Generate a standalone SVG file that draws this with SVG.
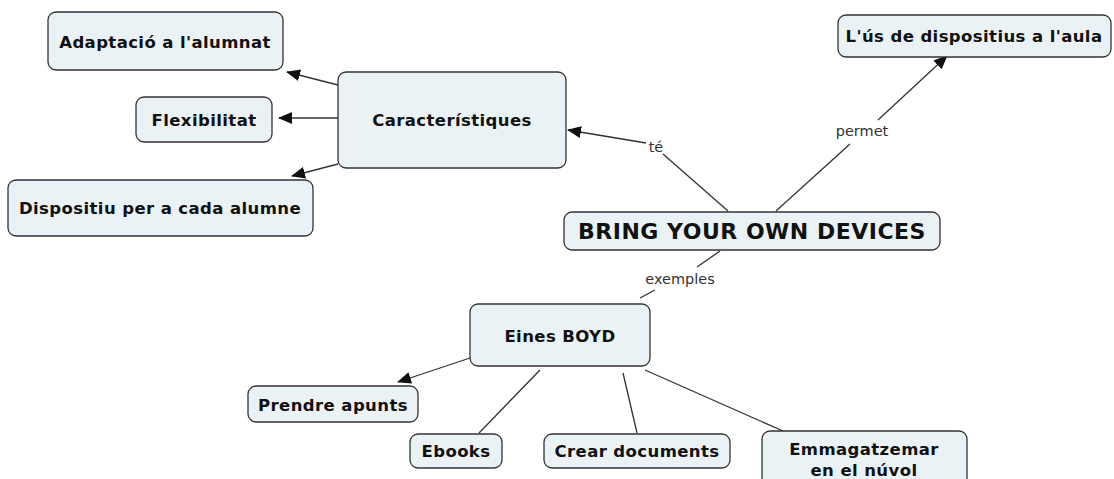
<svg xmlns="http://www.w3.org/2000/svg" width="1114" height="479" viewBox="0 0 1114 479">
<style>
.n{fill:#ebf2f5;stroke:#333;stroke-width:1.3}
.t{font-family:"DejaVu Sans",Verdana,sans-serif;font-weight:bold;font-size:16.5px;letter-spacing:0.4px;fill:#111;text-anchor:middle;dominant-baseline:central}
.big{font-size:22px;letter-spacing:0.5px}
.c{stroke:#333;stroke-width:1.3;fill:none}
.l{font-family:"DejaVu Sans",Verdana,sans-serif;font-size:14.5px;fill:#333;text-anchor:middle;dominant-baseline:central}
</style>
<defs>
<marker id="a" markerWidth="14" markerHeight="12" refX="13" refY="6" orient="auto" markerUnits="userSpaceOnUse">
<path d="M0,0 L14,6 L0,12 z" fill="#111"/>
</marker>
</defs>
<rect width="1114" height="479" fill="#fff"/>
<g id="connectors">
<line class="c" x1="338" y1="85" x2="287" y2="72" marker-end="url(#a)"/>
<line class="c" x1="338" y1="118" x2="279" y2="118" marker-end="url(#a)"/>
<line class="c" x1="338" y1="164" x2="292" y2="176" marker-end="url(#a)"/>
<line class="c" x1="728" y1="211" x2="663" y2="154"/>
<line class="c" x1="646" y1="143" x2="568" y2="130" marker-end="url(#a)"/>
<text class="l" x="656" y="147">té</text>
<line class="c" x1="776" y1="211" x2="850" y2="144"/>
<line class="c" x1="878" y1="120" x2="947" y2="56" marker-end="url(#a)"/>
<text class="l" x="862" y="131">permet</text>
<line class="c" x1="720" y1="251" x2="697" y2="267"/>
<line class="c" x1="655" y1="290" x2="640" y2="298"/>
<text class="l" x="680" y="279">exemples</text>
<line class="c" x1="470" y1="358" x2="398" y2="382" marker-end="url(#a)"/>
<line class="c" x1="540" y1="370" x2="479" y2="433"/>
<line class="c" x1="623" y1="373" x2="637" y2="433"/>
<line class="c" x1="645" y1="370" x2="783" y2="431"/>
</g>
<g id="n-adaptacio"><rect class="n" x="48" y="12" width="235" height="58" rx="8"/><text class="t" x="165" y="42">Adaptació a l'alumnat</text></g>
<g id="n-flexibilitat"><rect class="n" x="136" y="97" width="136" height="45" rx="8"/><text class="t" x="204" y="120">Flexibilitat</text></g>
<g id="n-caracteristiques"><rect class="n" x="338" y="72" width="228" height="96" rx="8"/><text class="t" x="452" y="120">Característiques</text></g>
<g id="n-dispositiu"><rect class="n" x="8" y="180" width="305" height="56" rx="8"/><text class="t" x="160" y="208">Dispositiu per a cada alumne</text></g>
<g id="n-us"><rect class="n" x="838" y="15" width="273" height="42" rx="8"/><text class="t" x="974" y="36">L'ús de dispositius a l'aula</text></g>
<g id="n-byod"><rect class="n" x="564" y="212" width="376" height="38" rx="8"/><text class="t big" x="752" y="231">BRING YOUR OWN DEVICES</text></g>
<g id="n-eines"><rect class="n" x="470" y="304" width="180" height="62" rx="8"/><text class="t" x="560" y="336">Eines BOYD</text></g>
<g id="n-prendre"><rect class="n" x="248" y="386" width="170" height="36" rx="8"/><text class="t" x="333" y="405">Prendre apunts</text></g>
<g id="n-ebooks"><rect class="n" x="410" y="434" width="92" height="34" rx="8"/><text class="t" x="456" y="451">Ebooks</text></g>
<g id="n-crear"><rect class="n" x="544" y="434" width="186" height="34" rx="8"/><text class="t" x="637" y="451">Crear documents</text></g>
<g id="n-emmagatzemar"><rect class="n" x="762" y="431" width="205" height="70" rx="8"/><text class="t" x="864" y="449">Emmagatzemar</text><text class="t" x="864" y="470">en el núvol</text></g>
</svg>
